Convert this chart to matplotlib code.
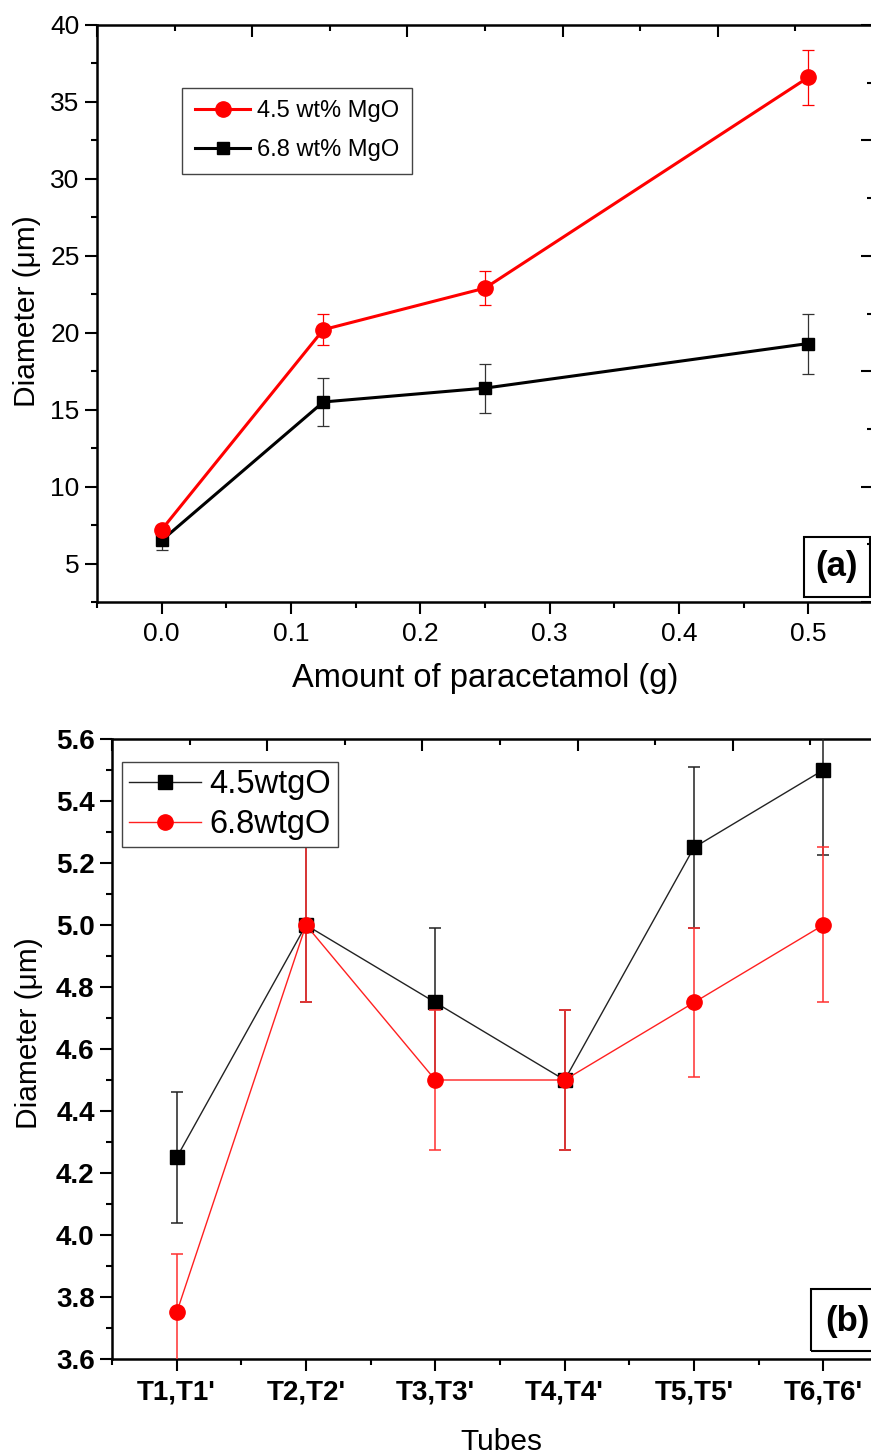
import numpy as np
import matplotlib
matplotlib.use("Agg")
import matplotlib.pyplot as plt
from matplotlib.ticker import MultipleLocator, FormatStrFormatter, FixedLocator
from matplotlib.patches import Rectangle

plt.rcParams['font.family'] = ['Liberation Sans', 'DejaVu Sans']

# == data (a) ==
amount = [0.0, 0.125, 0.25, 0.5]
dia_45 = [7.2, 20.2, 22.9, 36.6]
err_45 = [0.3, 1.0, 1.1, 1.8]
dia_68 = [6.5, 15.5, 16.4, 19.3]
err_68 = [0.6, 1.55, 1.6, 1.95]
labels_a = ["4.5 wt% MgO", "6.8 wt% MgO"]

# == data (b) ==
tubes = ["T1,T1'", "T2,T2'", "T3,T3'", "T4,T4'", "T5,T5'", "T6,T6'"]
tube_45 = [4.25, 5.0, 4.75, 4.5, 5.25, 5.5]
tube_err_45 = [0.21, 0.25, 0.24, 0.225, 0.26, 0.275]
tube_68 = [3.75, 5.0, 4.5, 4.5, 4.75, 5.0]
tube_err_68 = [0.19, 0.25, 0.225, 0.225, 0.24, 0.25]
labels_b = ["4.5wtgO", "6.8wtgO"]

W, H = 871, 1454
fig = plt.figure(figsize=(W / 100, H / 100), dpi=100)


def px_box(l, t, r, b):
    return [l / W, 1 - b / H, (r - l) / W, (b - t) / H]


def style_axes(ax):
    for s in ax.spines.values():
        s.set_linewidth(1.8)
    ax.spines['right'].set_visible(False)
    ax.tick_params(which='major', direction='out', length=8.5, width=1.5, top=False, right=False)
    ax.tick_params(which='minor', direction='out', length=4.5, width=1.5, top=False, right=False)


def overlay_ticks(pos, right=True):
    # Origin-style top/right axis with its own tick spacing
    ov = fig.add_axes(pos, frameon=False)
    ov.set_xlim(0, 5)
    ov.set_ylim(0, 5)
    ov.xaxis.set_major_locator(MultipleLocator(1))
    ov.xaxis.set_minor_locator(MultipleLocator(0.5))
    ov.yaxis.set_major_locator(MultipleLocator(1))
    ov.yaxis.set_minor_locator(MultipleLocator(0.5))
    ov.tick_params(which='both', direction='in', width=1.5, bottom=False, left=False,
                   top=True, right=right, labelbottom=False, labelleft=False,
                   labeltop=False, labelright=False)
    ov.tick_params(which='major', length=8.5)
    ov.tick_params(which='minor', length=4.5)
    ov.patch.set_visible(False)
    return ov


# ---------------- panel (a) ----------------
pos_a = px_box(97, 25, 873, 602)
ax1 = fig.add_axes(pos_a)
style_axes(ax1)
overlay_ticks(pos_a)

eb68 = ax1.errorbar(amount, dia_68, yerr=err_68, color='black', lw=2.2, marker='s', ms=9,
                    ecolor='#333333', elinewidth=0.9, capsize=4.3, capthick=0.9, zorder=3)
eb45 = ax1.errorbar(amount, dia_45, yerr=err_45, color='#ff0000', lw=2.2, marker='o', ms=11,
                    ecolor='#ff0000', elinewidth=0.9, capsize=4.3, capthick=0.9, zorder=4)

ax1.set_xlim(-0.05, 0.55)
ax1.set_ylim(2.5, 40)
ax1.xaxis.set_major_locator(FixedLocator([0.0, 0.1, 0.2, 0.3, 0.4, 0.5]))
ax1.xaxis.set_minor_locator(MultipleLocator(0.05))
ax1.xaxis.set_major_formatter(FormatStrFormatter('%.1f'))
ax1.yaxis.set_major_locator(MultipleLocator(5))
ax1.yaxis.set_minor_locator(MultipleLocator(2.5))
ax1.tick_params(axis='x', labelsize=19, pad=6)
ax1.tick_params(axis='y', labelsize=19, pad=4)

leg1 = ax1.legend([eb45[0], eb68[0]], labels_a, loc='upper left',
                  bbox_to_anchor=(0.110, 0.891), fontsize=17, frameon=True, fancybox=False,
                  edgecolor='#444444', framealpha=1, handlelength=2.35, handletextpad=0.3,
                  labelspacing=0.72, borderpad=0.53, borderaxespad=0, numpoints=1)
leg1.get_frame().set_linewidth(1.0)

ax1.add_patch(Rectangle((0.911, 0.009), 0.085, 0.104, transform=ax1.transAxes,
                        fill=False, lw=1.5, ec='black', zorder=5))
ax1.text(0.9536, 0.061, "(a)", transform=ax1.transAxes, ha='center', va='center',
         fontsize=25, fontweight='bold')

fig.text(27 / W, 1 - 311 / H, "Diameter (\u03bcm)", rotation=90, ha='center', va='center',
         fontsize=21.5)
fig.text(485 / W, 1 - 687 / H, "Amount of paracetamol (g)", ha='center', va='baseline',
         fontsize=23.5)

# ---------------- panel (b) ----------------
pos_b = px_box(112, 739, 888, 1359)
ax2 = fig.add_axes(pos_b)
style_axes(ax2)
overlay_ticks(pos_b, right=False)

xpos = np.arange(1, len(tubes) + 1)
ebb45 = ax2.errorbar(xpos, tube_45, yerr=tube_err_45, color='#222222', lw=1.0, marker='s',
                     ms=9.5, mfc='black', mec='black', ecolor='#222222', elinewidth=1.1,
                     capsize=4.5, capthick=1.1, zorder=3)
ebb68 = ax2.errorbar(xpos, tube_68, yerr=tube_err_68, color='#ff2020', lw=1.0, marker='o',
                     ms=11, mfc='#ff0000', mec='#ff0000', ecolor='#ff3030', elinewidth=1.1,
                     capsize=4.5, capthick=1.1, zorder=4)

ax2.set_xlim(0.5, 6.5)
ax2.set_ylim(3.6, 5.6)
ax2.set_xticks(xpos)
ax2.set_xticklabels(tubes, fontweight='bold')
ax2.xaxis.set_minor_locator(FixedLocator(np.arange(0.5, 7, 1.0)))
ax2.yaxis.set_major_locator(MultipleLocator(0.2))
ax2.yaxis.set_minor_locator(MultipleLocator(0.1))
ax2.yaxis.set_major_formatter(FormatStrFormatter('%.1f'))
for t in ax2.get_yticklabels():
    t.set_fontweight('bold')
ax2.tick_params(axis='x', labelsize=20, pad=6)
ax2.tick_params(axis='y', labelsize=20, pad=4)

leg2 = ax2.legend([ebb45[0], ebb68[0]], labels_b, loc='upper left',
                  bbox_to_anchor=(0.013, 0.963), fontsize=23.5, frameon=True, fancybox=False,
                  edgecolor='#444444', framealpha=1, handlelength=2.2, handletextpad=0.25,
                  labelspacing=0.28, borderpad=0.22, borderaxespad=0, numpoints=1)
leg2.get_frame().set_linewidth(1.0)

ax2.add_patch(Rectangle((0.9008, 0.0129), 0.0952, 0.1, transform=ax2.transAxes,
                        fill=False, lw=1.5, ec='black', zorder=5))
ax2.text(0.948, 0.060, "(b)", transform=ax2.transAxes, ha='center', va='center',
         fontsize=25, fontweight='bold')

fig.text(29 / W, 1 - 1033 / H, "Diameter (\u03bcm)", rotation=90, ha='center', va='center',
         fontsize=21.5)
fig.text(501 / W, 1 - 1450 / H, "Tubes", ha='center', va='baseline', fontsize=21.5)

fig.savefig("out.png", dpi=100)
